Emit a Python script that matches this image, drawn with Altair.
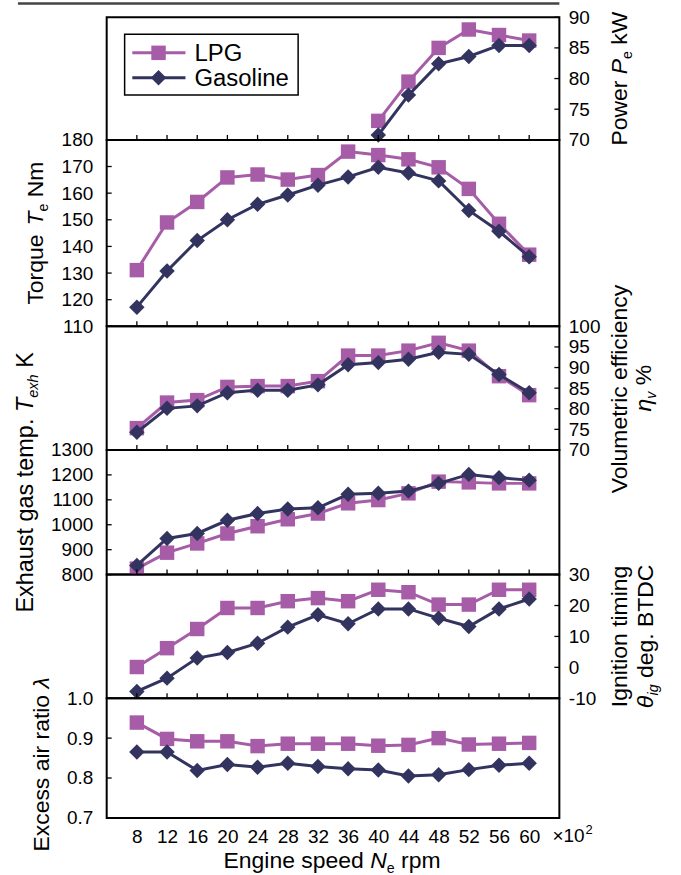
import altair as alt
import pandas as pd

FONT = "Liberation Sans"
LPG_COLOR = "#A65CA6"
GAS_COLOR = "#33335F"
INK = "#000000"

# ---------------- data ----------------
speeds = [8, 12, 16, 20, 24, 28, 32, 36, 40, 44, 48, 52, 56, 60]
power_speeds = [40, 44, 48, 52, 56, 60]
power_lpg = [73.1, 79.5, 85.0, 88.0, 87.1, 86.2]
power_gas = [70.8, 77.3, 82.4, 83.6, 85.4, 85.4]
torque_lpg = [131.1, 149.0, 156.7, 165.9, 167.0, 165.1, 166.8, 175.6, 174.3, 172.7, 169.7, 161.6, 148.5, 136.9]
torque_gas = [117.2, 130.8, 142.2, 150.0, 155.8, 159.3, 163.0, 166.1, 169.7, 167.6, 164.6, 153.5, 145.7, 136.1]
vol_lpg = [75.3, 81.5, 82.1, 85.3, 85.5, 85.5, 86.7, 92.9, 92.9, 94.1, 96.0, 94.1, 87.9, 83.3]
vol_gas = [74.3, 80.1, 80.7, 83.9, 84.5, 84.5, 85.8, 90.7, 91.2, 92.0, 93.7, 93.2, 88.3, 83.9]
exh_lpg = [824, 888, 925, 965, 994, 1022, 1045, 1086, 1099, 1126, 1173, 1170, 1166, 1166]
exh_gas = [837, 945, 965, 1018, 1045, 1063, 1068, 1122, 1126, 1135, 1166, 1202, 1189, 1179]
ign_lpg = [0.1, 6.2, 12.4, 19.2, 19.2, 21.4, 22.4, 21.4, 25.1, 24.3, 20.3, 20.3, 25.1, 25.1]
ign_gas = [-7.8, -3.5, 3.0, 4.8, 7.8, 13.0, 17.0, 14.1, 18.9, 18.9, 15.9, 13.2, 18.9, 22.1]
lam_lpg = [0.939, 0.898, 0.892, 0.892, 0.880, 0.886, 0.886, 0.886, 0.881, 0.883, 0.900, 0.884, 0.886, 0.888]
lam_gas = [0.865, 0.865, 0.819, 0.834, 0.827, 0.837, 0.829, 0.823, 0.820, 0.805, 0.808, 0.821, 0.832, 0.837]

series_names = ["LPG", "Gasoline"]
x_domain = [4, 64]
power_ticks = [70, 75, 80, 85, 90]
torque_ticks = [110, 120, 130, 140, 150, 160, 170, 180]
vol_ticks = [70, 75, 80, 85, 90, 95, 100]
exh_ticks = [800, 900, 1000, 1100, 1200, 1300]
ign_ticks = [-10, 0, 10, 20, 30]
lam_ticks = [0.7, 0.8, 0.9, 1.0]
x_factor_base = "\u00d710"
x_factor_exp = "2"

# ---------------- layout ----------------
W = 454
HEIGHTS = [123, 187, 124, 125, 124, 120]
LEFT, RIGHT, TOP, BOTTOM = 106, 121, 15, 57
LABEL_SIZE = 19
TITLE_SIZE = 23
LEGEND_SIZE = 24

# Arial-metric advance widths (em) used to lay out rich-text titles
ADV = {' ': .278, 'A': .667, 'B': .667, 'C': .722, 'D': .722, 'E': .667, 'G': .778, 'I': .278,
       'K': .667, 'L': .556, 'N': .722, 'P': .667, 'T': .611, 'V': .667, 'W': .944,
       'a': .556, 'c': .5, 'd': .556, 'e': .556, 'f': .278, 'g': .556, 'h': .556, 'i': .222,
       'k': .5, 'l': .222, 'm': .833, 'n': .556, 'o': .556, 'p': .556, 'q': .556, 'r': .333,
       's': .5, 't': .278, 'u': .556, 'v': .5, 'w': .722, 'x': .5, 'y': .5, '.': .278,
       '%': .889, '\u03b7': .556, '\u03b8': .556, '\u03bb': .52, '\u00d7': .584}


def tw(s, size):
    return sum(ADV.get(c, .556) for c in s) * size


def rich(pieces, x, y, angle, size=TITLE_SIZE):
    sub = size * 0.62
    sizes = [sub if k.startswith('s') else size for _, k in pieces]
    total = sum(tw(t, fs) for (t, _), fs in zip(pieces, sizes))
    pos = -total / 2
    out = []
    for (t, k), fs in zip(pieces, sizes):
        txt = t.strip()
        lead = tw(t[:len(t) - len(t.lstrip())], fs)
        if txt:
            out.append(
                alt.Chart(pd.DataFrame({'t': [txt]}))
                .mark_text(align='left', baseline='alphabetic', angle=angle,
                           dx=pos + lead, dy=(size * 0.22 if k.startswith('s') else 0),
                           fontSize=fs, fontStyle=('italic' if 'i' in k else 'normal'),
                           font=FONT, color=INK)
                .encode(x=alt.value(x), y=alt.value(y), text='t:N')
            )
        pos += tw(t, fs)
    return out


def panel(h, xs, lpg, gas, dom, ticks, side, fmt=None, expr=None, xaxis=None,
          xticks=True, extra=()):
    df = pd.DataFrame({'speed': list(xs) * 2,
                       'series': [series_names[0]] * len(xs) + [series_names[1]] * len(xs),
                       'value': list(lpg) + list(gas)})
    xsc = alt.Scale(domain=x_domain, nice=False, zero=False)
    ysc = alt.Scale(domain=dom, nice=False, zero=False)
    akw = dict(orient=side, values=ticks, ticks=False, domain=False, grid=False,
               labelFontSize=LABEL_SIZE, labelFont=FONT, labelColor=INK,
               labelPadding=(14 if side == 'left' else 9), labelOverlap=False,
               labelFlush=False, title=None)
    if fmt:
        akw['format'] = fmt
    if expr:
        akw['labelExpr'] = expr
    yax = alt.Axis(**akw)
    X = alt.X('speed:Q', scale=xsc, axis=xaxis)
    Y = alt.Y('value:Q', scale=ysc, axis=yax)
    layers = []
    for name, color, shape, size in [(series_names[0], LPG_COLOR, 'square', 210),
                                     (series_names[1], GAS_COLOR, 'diamond', 240)]:
        base = alt.Chart(df[df.series == name]).encode(x=X, y=Y)
        layers.append(base.mark_line(color=color, strokeWidth=3))
        layers.append(base.mark_point(shape=shape, filled=True, size=size, color=color,
                                      opacity=1))
    # inward y ticks
    x0, x1 = (0, 5) if side == 'left' else (W, W - 5)
    layers.append(alt.Chart(pd.DataFrame({'value': ticks})).mark_rule(color=INK, strokeWidth=1.3)
                  .encode(y=Y, x=alt.value(x0), x2=alt.value(x1)))
    if xticks:
        layers.append(alt.Chart(pd.DataFrame({'speed': speeds})).mark_rule(color=INK, strokeWidth=1.3)
                      .encode(x=X, y=alt.value(h), y2=alt.value(h - 5)))
    layers.extend(extra)
    return alt.layer(*layers).properties(width=W, height=h)


# ---------- panel 1: power (+ legend, top rule) ----------
h1 = HEIGHTS[0]
legend = [
    alt.Chart(pd.DataFrame({'a': [0]})).mark_rect(fill='white', stroke=INK, strokeWidth=1.5)
    .encode(x=alt.value(18), x2=alt.value(192), y=alt.value(17), y2=alt.value(78)),
]
for i, (name, color, shape, size) in enumerate([(series_names[0], LPG_COLOR, 'square', 210),
                                                 (series_names[1], GAS_COLOR, 'diamond', 240)]):
    yy = 35.7 + 25 * i
    legend.append(alt.Chart(pd.DataFrame({'a': [0]})).mark_rule(color=color, strokeWidth=3)
                  .encode(x=alt.value(25.7), x2=alt.value(79), y=alt.value(yy)))
    legend.append(alt.Chart(pd.DataFrame({'a': [0]})).mark_point(shape=shape, filled=True, size=size,
                                                                 color=color, opacity=1)
                  .encode(x=alt.value(52), y=alt.value(yy)))
    legend.append(alt.Chart(pd.DataFrame({'t': [name]})).mark_text(
        align='left', baseline='middle', fontSize=LEGEND_SIZE, font=FONT, color=INK)
        .encode(x=alt.value(88), y=alt.value(yy + 1), text='t:N'))

top_rule = alt.Chart(pd.DataFrame({'a': [0]})).mark_rule(color='#444444', strokeWidth=2.5).encode(
    x=alt.value(-89), x2=alt.value(W), y=alt.value(-13.75))
anchor_top = alt.Chart(pd.DataFrame({'a': [0]})).mark_rule(opacity=0, strokeWidth=1).encode(
    x=alt.value(-LEFT + 0.5), x2=alt.value(W + RIGHT - 0.5), y=alt.value(-TOP + 0.5))

p1 = panel(h1, power_speeds, power_lpg, power_gas, [70, 90], power_ticks, 'right',
           extra=[top_rule, anchor_top] + legend +
           rich([("Power ", 'n'), ("P", 'i'), ("e", 's'), (" kW", 'n')], W + 68, h1 / 2, 270))

# ---------- panel 2: torque ----------
h2 = HEIGHTS[1]
p2 = panel(h2, speeds, torque_lpg, torque_gas, [110, 180], torque_ticks, 'left',
           extra=rich([("Torque ", 'n'), ("T", 'i'), ("e", 's'), (" Nm", 'n')], -64, h2 / 2, 270))

# ---------- panel 3: volumetric efficiency ----------
h3 = HEIGHTS[2]
p3 = panel(h3, speeds, vol_lpg, vol_gas, [70, 100], vol_ticks, 'right',
           extra=rich([("Volumetric efficiency", 'n')], W + 68, h3 / 2, 270) +
           rich([("\u03b7", 'i'), ("v", 'si'), (" %", 'n')], W + 92, h3 / 2, 270))

# ---------- panel 4: exhaust temperature ----------
h4 = HEIGHTS[3]
p4 = panel(h4, speeds, exh_lpg, exh_gas, [800, 1300], exh_ticks, 'left', fmt='d',
           extra=rich([("Exhaust gas temp. ", 'n'), ("T", 'i'), ("exh", 'si'), (" K", 'n')],
                      -74, h4 / 2 - 30, 270, size=23.5))

# ---------- panel 5: ignition timing ----------
h5 = HEIGHTS[4]
p5 = panel(h5, speeds, ign_lpg, ign_gas, [-10, 30], ign_ticks, 'right',
           expr="'' + datum.value",
           extra=rich([("Ignition timing", 'n')], W + 68, h5 / 2, 270) +
           rich([("\u03b8", 'i'), ("ig", 'si'), (" deg. BTDC", 'n')], W + 94, h5 / 2, 270))

# ---------- panel 6: excess air ratio ----------
h6 = HEIGHTS[5]
xaxis6 = alt.Axis(values=speeds, ticks=False, domain=False, grid=False, labelFontSize=LABEL_SIZE,
                  labelFont=FONT, labelColor=INK, labelPadding=9.5, labelFlush=False,
                  labelOverlap=False, format='d', title=None)
anchor_bot = alt.Chart(pd.DataFrame({'a': [0]})).mark_rule(opacity=0, strokeWidth=1).encode(
    x=alt.value(-LEFT + 0.5), x2=alt.value(W + RIGHT - 0.5), y=alt.value(h6 + BOTTOM - 0.5))
factor_x = 447
factor = [
    alt.Chart(pd.DataFrame({'t': [x_factor_base]})).mark_text(
        align='left', baseline='alphabetic', fontSize=LABEL_SIZE, font=FONT, color=INK).encode(
        x=alt.value(factor_x), y=alt.value(h6 + 24), text='t:N'),
    alt.Chart(pd.DataFrame({'t': [x_factor_exp]})).mark_text(
        align='left', baseline='alphabetic', fontSize=13, font=FONT, color=INK).encode(
        x=alt.value(factor_x + tw(x_factor_base, LABEL_SIZE) + 1), y=alt.value(h6 + 16), text='t:N'),
]
p6 = panel(h6, speeds, lam_lpg, lam_gas, [0.7, 1.0], lam_ticks, 'left', fmt='.1f',
           xaxis=xaxis6, xticks=False,
           extra=[anchor_bot] + factor +
           rich([("Excess air ratio ", 'n'), ("\u03bb", 'i')], -58, h6 / 2 + 6, 270) +
           rich([("Engine speed ", 'n'), ("N", 'i'), ("e", 's'), (" rpm", 'n')], 226, h6 + 50, 0))

chart = (
    alt.vconcat(p1, p2, p3, p4, p5, p6, spacing=0, bounds='flush')
    .properties(padding=0, background='white')
    .configure_view(stroke=INK, strokeWidth=2)
)

chart.save("out.html", embed_options={"renderer": "svg", "actions": False})
